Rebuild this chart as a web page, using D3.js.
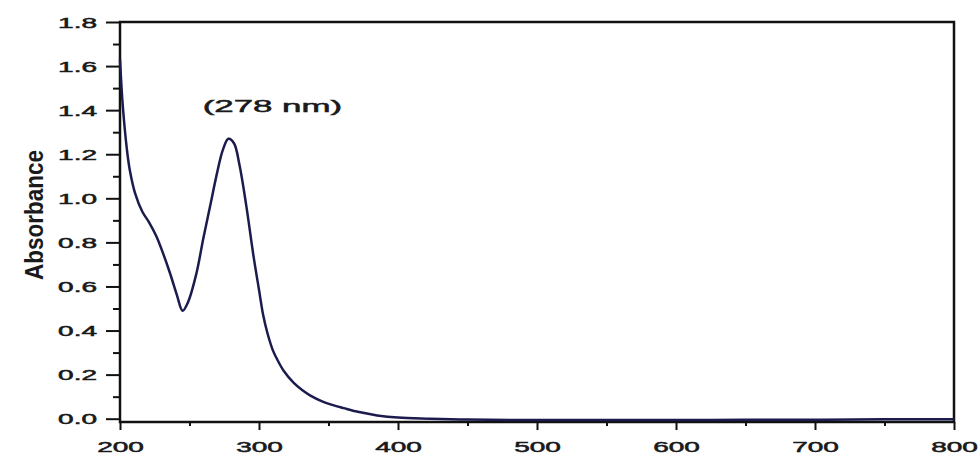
<!doctype html>
<html lang="en">
<head>
  <meta charset="utf-8">
  <title>Absorbance spectrum</title>
  <style>
    body { margin: 0; background: #fff; }
    svg text { font-family: "Liberation Sans", Arial, sans-serif; fill: #1a1a1a; }
  </style>
</head>
<body>
<div id="chart"></div>

<script src="https://cdnjs.cloudflare.com/ajax/libs/d3/7.8.5/d3.min.js"></script>
<script>

// data (nm, absorbance)
const wavelength = [200, 202, 205, 207, 211, 216, 221, 226, 231, 236, 241, 245, 249, 255, 260, 265, 270, 274, 278,
  282, 286, 291, 296, 300, 303, 306, 310, 313, 318, 325, 331, 337, 345, 352, 361, 372, 385, 400, 423, 450,
  500, 550, 600, 650, 700, 750, 800]
const absorbance = [1.63, 1.42, 1.22, 1.13, 1.02, 0.94, 0.89, 0.83, 0.75, 0.66, 0.56, 0.49, 0.53, 0.66, 0.82, 0.97, 1.12, 1.22, 1.27,
  1.25, 1.15, 0.96, 0.74, 0.585, 0.47, 0.39, 0.31, 0.27, 0.215, 0.162, 0.13, 0.105, 0.08, 0.064, 0.048, 0.03, 0.015, 0.005, 0.0, -0.004,
  -0.006, -0.006, -0.006, -0.005, -0.005, -0.003, -0.002]

const xTicks = [200, 300, 400, 500, 600, 700, 800]
const xMinor = [250, 350, 450, 550, 650, 750]
const yTicks = [0, 0.2, 0.4, 0.6, 0.8, 1.0, 1.2, 1.4, 1.6, 1.8]
const yMinor = [0.1, 0.3, 0.5, 0.7, 0.9, 1.1, 1.3, 1.5, 1.7]

const peakLabel = "(278 nm)"
const yTitle = "Absorbance"

const W = 979, H = 454
const box = { left: 120, right: 954, top: 22, bottom: 422 }

const svg = d3.select("#chart").append("svg")
  .attr("width", W)
  .attr("height", H)

const x = d3.scaleLinear().domain([200, 800]).range([box.left, box.right])
const y = d3.scaleLinear().domain([-0.015, 1.8]).range([box.bottom, box.top])

// the picture's text is drawn wide, so stretch each label horizontally
function widen(sel, factor) {
  sel.each(function() {
    const len = this.getComputedTextLength()
    d3.select(this).attr("textLength", len * factor).attr("lengthAdjust", "spacingAndGlyphs")
  })
}

function heavy(sel) {
  sel.style("stroke", "#1a1a1a").style("stroke-width", 0.5)
}

// y axis
const yAxis = svg.append("g")
  .attr("transform", "translate(" + box.left + ",0)")
  .call(d3.axisLeft(y).tickValues(yTicks).tickFormat(d3.format(".1f")).tickSize(14).tickSizeOuter(0).tickPadding(9))
yAxis.select(".domain").remove()
yAxis.selectAll("line").attr("stroke", "#111").attr("stroke-width", 2)
yAxis.selectAll("text").style("font-size", "14px").attr("dy", "0.36em").call(widen, 2.0).call(heavy)

svg.append("g")
  .attr("transform", "translate(" + box.left + ",0)")
  .call(d3.axisLeft(y).tickValues(yMinor).tickFormat("").tickSize(7).tickSizeOuter(0))
  .call(g => g.select(".domain").remove())
  .selectAll("line").attr("stroke", "#111").attr("stroke-width", 2)

// x axis
const xAxis = svg.append("g")
  .attr("transform", "translate(0," + box.bottom + ")")
  .call(d3.axisBottom(x).tickValues(xTicks).tickSize(8).tickSizeOuter(0))
xAxis.select(".domain").remove()
xAxis.selectAll("line").attr("stroke", "#111").attr("stroke-width", 2)
xAxis.selectAll("text").style("font-size", "14px").attr("dy", null).attr("y", 30).call(widen, 2.0).call(heavy)

svg.append("g")
  .attr("transform", "translate(0," + box.bottom + ")")
  .call(d3.axisBottom(x).tickValues(xMinor).tickFormat("").tickSize(4).tickSizeOuter(0))
  .call(g => g.select(".domain").remove())
  .selectAll("line").attr("stroke", "#111").attr("stroke-width", 2)

// frame
svg.append("rect")
  .attr("x", box.left)
  .attr("y", box.top)
  .attr("width", box.right - box.left)
  .attr("height", box.bottom - box.top)
  .attr("fill", "none")
  .attr("stroke", "#111")
  .attr("stroke-width", 2.5)

// spectrum
const pts = wavelength.map((w, i) => [w, absorbance[i]])
svg.append("path")
  .datum(pts)
  .attr("fill", "none")
  .attr("stroke", "#1b1b4d")
  .attr("stroke-width", 2.5)
  .attr("d", d3.line().x(d => x(d[0])).y(d => y(d[1])).curve(d3.curveCatmullRom.alpha(0.5)))

// peak annotation
svg.append("text")
  .attr("x", x(278) + 44)
  .attr("y", y(1.4) + 2)
  .attr("text-anchor", "middle")
  .style("font-size", "17px")
  .text(peakLabel)
  .call(widen, 2.05)
  .call(heavy)

// y title
svg.append("text")
  .attr("transform", "translate(43,215) rotate(-90)")
  .attr("text-anchor", "middle")
  .style("font-family", "'Liberation Sans Narrow', 'Arial Narrow', sans-serif")
  .style("font-size", "26px")
  .style("font-weight", "bold")
  .attr("textLength", 130)
  .attr("lengthAdjust", "spacingAndGlyphs")
  .text(yTitle)

</script>
</body>
</html>
